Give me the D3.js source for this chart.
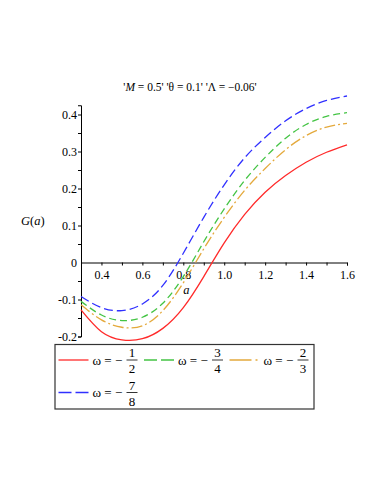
<!DOCTYPE html>
<html>

<head>
    <title>G(a) curves</title>
    <script src="https://d3js.org/d3.v7.min.js"></script>
    <style>
        body { margin: 0; background: #fff; }
        text { font-family: "Liberation Serif", "Times New Roman", serif; fill: #000; }
    </style>
</head>

<body>
    <script>
        // values
        const aVals = [0.3, 0.4, 0.5, 0.6, 0.7, 0.8, 0.9, 1.0, 1.1, 1.2, 1.3, 1.4, 1.5, 1.6];
        const gRed = [-0.128, -0.187, -0.209, -0.206, -0.178, -0.122, -0.038, 0.053, 0.130, 0.190, 0.235, 0.271, 0.298, 0.318];
        const gGreen = [-0.105, -0.142, -0.157, -0.148, -0.110, -0.038, 0.056, 0.145, 0.222, 0.284, 0.336, 0.373, 0.395, 0.405];
        const gOrange = [-0.114, -0.155, -0.175, -0.171, -0.130, -0.055, 0.037, 0.122, 0.195, 0.254, 0.305, 0.343, 0.366, 0.376];
        const gBlue = [-0.092, -0.122, -0.130, -0.112, -0.062, 0.025, 0.122, 0.210, 0.283, 0.338, 0.383, 0.416, 0.438, 0.450];

        const omegaNum = [1, 3, 2, 7];
        const omegaDen = [2, 4, 3, 8];

        const xTicks = [0.3, 0.4, 0.5, 0.6, 0.7, 0.8, 0.9, 1.0, 1.1, 1.2, 1.3, 1.4, 1.5, 1.6];
        const xLabels = [0.4, 0.6, 0.8, 1.0, 1.2, 1.4, 1.6];
        const yTicks = [-0.2, -0.15, -0.1, -0.05, 0, 0.05, 0.1, 0.15, 0.2, 0.25, 0.3, 0.35, 0.4];
        const yLabels = [-0.2, -0.1, 0, 0.1, 0.2, 0.3, 0.4];

        const series = [
            { g: gRed, color: "#ff2a2a", dash: null, legendDash: null },
            { g: gGreen, color: "#44c444", dash: "7,4", legendDash: "13,4" },
            { g: gOrange, color: "#e4a93c", dash: "11,3,2,3", legendDash: "22,4,2,4" },
            { g: gBlue, color: "#3030ff", dash: "9,4", legendDash: "13,4" }
        ];

        const width = 382, height = 494;
        const serif = "Liberation Serif, Times New Roman, serif";
        const svg = d3.select("body").append("svg")
            .attr("width", width)
            .attr("height", height);

        const x = d3.scaleLinear().domain([0.3, 1.6]).range([81, 347]);
        const y = d3.scaleLinear().domain([-0.2, 0.425]).range([336.5, 105.25]);

        // title
        const title = svg.append("text")
            .attr("x", 190).attr("y", 91)
            .attr("text-anchor", "middle")
            .style("font-size", "11.5px");
        title.append("tspan").text("'");
        title.append("tspan").style("font-style", "italic").text("M");
        title.append("tspan").text(" = 0.5' 'θ = 0.1' 'Λ = −0.06'");

        const isLabel = (list, d) => list.some(v => Math.abs(v - d) < 1e-9);

        // x axis through zero
        const xAxis = svg.append("g")
            .attr("transform", `translate(0,${y(0)})`)
            .attr("font-family", serif)
            .call(d3.axisBottom(x)
                .tickValues(xTicks)
                .tickSizeOuter(0)
                .tickSize(3)
                .tickFormat(d => isLabel(xLabels, d) ? d3.format(".1f")(d) : ""));
        xAxis.selectAll("text").style("font-size", "12px").attr("dy", "0.85em");

        // y axis
        const yAxis = svg.append("g")
            .attr("transform", `translate(${x(0.3)},0)`)
            .attr("font-family", serif)
            .call(d3.axisLeft(y)
                .tickValues(yTicks)
                .tickSizeOuter(0)
                .tickSize(3)
                .tickFormat(d => {
                    if (!isLabel(yLabels, d)) return "";
                    if (Math.abs(d) < 1e-9) return "0";
                    return d3.format(".1f")(d).replace("−", "-");
                }));
        yAxis.selectAll("text").style("font-size", "12px").attr("x", -4);
        yAxis.selectAll(".tick").filter(d => Math.abs(d) < 1e-9).select("line").remove();

        // axis titles
        svg.append("text")
            .attr("x", x(0.815)).attr("y", 294)
            .attr("text-anchor", "middle")
            .style("font-size", "12.5px").style("font-style", "italic")
            .text("a");

        const yl = svg.append("text")
            .attr("x", 21).attr("y", 225)
            .style("font-size", "12.5px");
        yl.append("tspan").style("font-style", "italic").text("G");
        yl.append("tspan").text("(");
        yl.append("tspan").style("font-style", "italic").text("a");
        yl.append("tspan").text(")");

        // curves
        const line = d3.line()
            .x(d => x(d[0]))
            .y(d => y(d[1]))
            .curve(d3.curveNatural);

        series.forEach(s => {
            svg.append("path")
                .datum(aVals.map((v, i) => [v, s.g[i]]))
                .attr("d", line)
                .attr("fill", "none")
                .attr("stroke", s.color)
                .attr("stroke-width", 1.3)
                .attr("stroke-dasharray", s.dash);
        });

        // legend
        const legend = svg.append("g");
        legend.append("rect")
            .attr("x", 55).attr("y", 344.5)
            .attr("width", 259).attr("height", 64.5)
            .attr("fill", "none")
            .attr("stroke", "#333")
            .attr("stroke-width", 1.2);

        series.forEach((s, i) => {
            const col = i % 3, row = Math.floor(i / 3);
            const lx = 58.5 + col * 85.5;
            const ly = 360 + row * 32.5;
            const g = legend.append("g").attr("transform", `translate(${lx},${ly})`);
            g.append("line")
                .attr("x1", 0).attr("x2", 30)
                .attr("y1", 0).attr("y2", 0)
                .attr("stroke", s.color)
                .attr("stroke-width", 1.3)
                .attr("stroke-dasharray", s.legendDash);
            g.append("text")
                .attr("x", 34).attr("y", 4.5)
                .style("font-size", "13px")
                .text("ω = −");
            g.append("line")
                .attr("x1", 68).attr("x2", 79)
                .attr("y1", 0).attr("y2", 0)
                .attr("stroke", "#000")
                .attr("stroke-width", 0.8);
            g.append("text")
                .attr("x", 73.5).attr("y", -3)
                .attr("text-anchor", "middle")
                .style("font-size", "13px")
                .text(omegaNum[i]);
            g.append("text")
                .attr("x", 73.5).attr("y", 13)
                .attr("text-anchor", "middle")
                .style("font-size", "13px")
                .text(omegaDen[i]);
        });
    </script>
</body>

</html>
